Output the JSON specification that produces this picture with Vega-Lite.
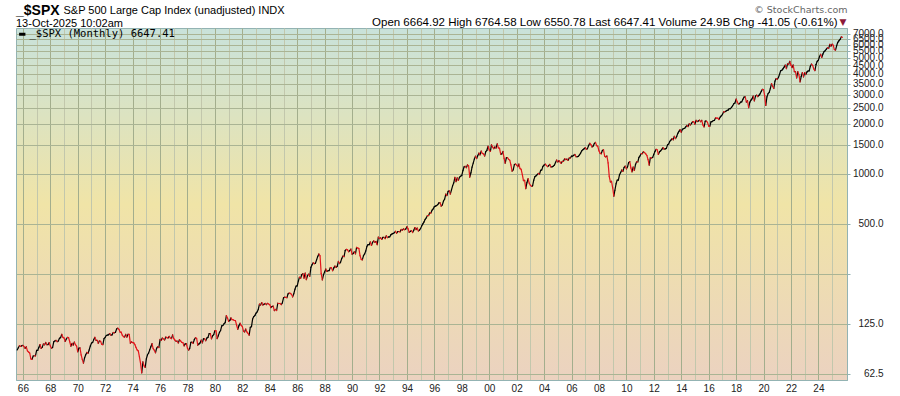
{
  "$schema": "https://vega.github.io/schema/vega-lite/v6.json",
  "autosize": {"type": "none"},
  "width": 831,
  "height": 352,
  "padding": {"left": 16, "top": 28, "right": 53, "bottom": 16},
  "background": "#ffffff",
  "config": {
    "font": "Liberation Sans",
    "view": {
      "stroke": "#93b3b3",
      "strokeWidth": 1,
      "fill": {
        "gradient": "linear", "x1": 0, "y1": 0, "x2": 0, "y2": 1,
        "stops": [
          {"offset": 0, "color": "#c9e2da"},
          {"offset": 0.5, "color": "#f0e4a7"},
          {"offset": 1, "color": "#ebd2c0"}
        ]
      }
    }
  },
  "title": {
    "text": "_$SPX",
    "subtitle": "13-Oct-2025 10:02am",
    "anchor": "start",
    "frame": "group",
    "font": "Liberation Sans",
    "fontSize": 14,
    "fontWeight": "bold",
    "color": "#000000",
    "subtitleFont": "Liberation Sans",
    "subtitleFontSize": 11,
    "subtitleColor": "#000000",
    "subtitlePadding": 0,
    "offset": -25
  },
  "data": {
    "format": {"parse": {"d": "date"}},
    "values": [
{"d":"1965-08","c":87.17},{"d":"1965-09","c":89.96},{"d":"1965-10","c":92.42},{"d":"1965-11","c":91.61},{"d":"1965-12","c":92.43},
{"d":"1966-01","c":92.88},{"d":"1966-02","c":91.22},{"d":"1966-03","c":89.23},{"d":"1966-04","c":91.06},{"d":"1966-05","c":86.13},{"d":"1966-06","c":84.74},{"d":"1966-07","c":83.60},{"d":"1966-08","c":77.10},{"d":"1966-09","c":76.56},{"d":"1966-10","c":80.20},{"d":"1966-11","c":80.45},{"d":"1966-12","c":80.33},
{"d":"1967-01","c":86.61},{"d":"1967-02","c":86.78},{"d":"1967-03","c":90.20},{"d":"1967-04","c":94.01},{"d":"1967-05","c":89.08},{"d":"1967-06","c":90.64},{"d":"1967-07","c":94.75},{"d":"1967-08","c":93.64},{"d":"1967-09","c":96.71},{"d":"1967-10","c":93.90},{"d":"1967-11","c":94.00},{"d":"1967-12","c":96.47},
{"d":"1968-01","c":92.24},{"d":"1968-02","c":89.36},{"d":"1968-03","c":90.20},{"d":"1968-04","c":97.59},{"d":"1968-05","c":98.68},{"d":"1968-06","c":99.58},{"d":"1968-07","c":97.74},{"d":"1968-08","c":98.86},{"d":"1968-09","c":102.67},{"d":"1968-10","c":103.41},{"d":"1968-11","c":108.37},{"d":"1968-12","c":103.86},
{"d":"1969-01","c":103.01},{"d":"1969-02","c":98.13},{"d":"1969-03","c":101.51},{"d":"1969-04","c":103.69},{"d":"1969-05","c":103.46},{"d":"1969-06","c":97.71},{"d":"1969-07","c":91.83},{"d":"1969-08","c":95.51},{"d":"1969-09","c":93.12},{"d":"1969-10","c":97.24},{"d":"1969-11","c":93.81},{"d":"1969-12","c":92.06},
{"d":"1970-01","c":85.02},{"d":"1970-02","c":89.50},{"d":"1970-03","c":89.63},{"d":"1970-04","c":81.52},{"d":"1970-05","c":76.55},{"d":"1970-06","c":72.72},{"d":"1970-07","c":78.05},{"d":"1970-08","c":81.52},{"d":"1970-09","c":84.21},{"d":"1970-10","c":83.25},{"d":"1970-11","c":87.20},{"d":"1970-12","c":92.15},
{"d":"1971-01","c":95.88},{"d":"1971-02","c":96.75},{"d":"1971-03","c":100.31},{"d":"1971-04","c":103.95},{"d":"1971-05","c":99.63},{"d":"1971-06","c":99.70},{"d":"1971-07","c":95.58},{"d":"1971-08","c":99.03},{"d":"1971-09","c":98.34},{"d":"1971-10","c":94.23},{"d":"1971-11","c":93.99},{"d":"1971-12","c":102.09},
{"d":"1972-01","c":103.94},{"d":"1972-02","c":106.57},{"d":"1972-03","c":107.20},{"d":"1972-04","c":107.67},{"d":"1972-05","c":109.53},{"d":"1972-06","c":107.14},{"d":"1972-07","c":107.39},{"d":"1972-08","c":111.09},{"d":"1972-09","c":110.55},{"d":"1972-10","c":111.58},{"d":"1972-11","c":116.67},{"d":"1972-12","c":118.05},
{"d":"1973-01","c":116.03},{"d":"1973-02","c":111.68},{"d":"1973-03","c":111.52},{"d":"1973-04","c":106.97},{"d":"1973-05","c":104.95},{"d":"1973-06","c":104.26},{"d":"1973-07","c":108.22},{"d":"1973-08","c":104.25},{"d":"1973-09","c":108.43},{"d":"1973-10","c":108.29},{"d":"1973-11","c":95.96},{"d":"1973-12","c":97.55},
{"d":"1974-01","c":96.57},{"d":"1974-02","c":96.22},{"d":"1974-03","c":93.98},{"d":"1974-04","c":90.31},{"d":"1974-05","c":87.28},{"d":"1974-06","c":86.00},{"d":"1974-07","c":79.31},{"d":"1974-08","c":72.15},{"d":"1974-09","c":63.54},{"d":"1974-10","c":73.90},{"d":"1974-11","c":69.97},{"d":"1974-12","c":68.56},
{"d":"1975-01","c":76.98},{"d":"1975-02","c":81.59},{"d":"1975-03","c":83.36},{"d":"1975-04","c":87.30},{"d":"1975-05","c":91.15},{"d":"1975-06","c":95.19},{"d":"1975-07","c":88.75},{"d":"1975-08","c":86.88},{"d":"1975-09","c":83.87},{"d":"1975-10","c":89.04},{"d":"1975-11","c":91.24},{"d":"1975-12","c":90.19},
{"d":"1976-01","c":100.86},{"d":"1976-02","c":99.71},{"d":"1976-03","c":102.77},{"d":"1976-04","c":101.64},{"d":"1976-05","c":100.18},{"d":"1976-06","c":104.28},{"d":"1976-07","c":103.44},{"d":"1976-08","c":102.91},{"d":"1976-09","c":105.24},{"d":"1976-10","c":102.90},{"d":"1976-11","c":102.10},{"d":"1976-12","c":107.46},
{"d":"1977-01","c":102.03},{"d":"1977-02","c":99.82},{"d":"1977-03","c":98.42},{"d":"1977-04","c":98.44},{"d":"1977-05","c":96.12},{"d":"1977-06","c":100.48},{"d":"1977-07","c":98.85},{"d":"1977-08","c":96.77},{"d":"1977-09","c":96.53},{"d":"1977-10","c":92.34},{"d":"1977-11","c":94.83},{"d":"1977-12","c":95.10},
{"d":"1978-01","c":89.25},{"d":"1978-02","c":87.04},{"d":"1978-03","c":89.21},{"d":"1978-04","c":96.83},{"d":"1978-05","c":97.24},{"d":"1978-06","c":95.53},{"d":"1978-07","c":100.68},{"d":"1978-08","c":103.29},{"d":"1978-09","c":102.54},{"d":"1978-10","c":93.15},{"d":"1978-11","c":94.70},{"d":"1978-12","c":96.11},
{"d":"1979-01","c":99.93},{"d":"1979-02","c":96.28},{"d":"1979-03","c":101.59},{"d":"1979-04","c":101.76},{"d":"1979-05","c":99.08},{"d":"1979-06","c":102.91},{"d":"1979-07","c":103.81},{"d":"1979-08","c":109.32},{"d":"1979-09","c":109.32},{"d":"1979-10","c":101.82},{"d":"1979-11","c":106.16},{"d":"1979-12","c":107.94},
{"d":"1980-01","c":114.16},{"d":"1980-02","c":113.66},{"d":"1980-03","c":102.09},{"d":"1980-04","c":106.29},{"d":"1980-05","c":111.24},{"d":"1980-06","c":114.24},{"d":"1980-07","c":121.67},{"d":"1980-08","c":122.38},{"d":"1980-09","c":125.46},{"d":"1980-10","c":127.47},{"d":"1980-11","c":140.52},{"d":"1980-12","c":135.76},
{"d":"1981-01","c":129.55},{"d":"1981-02","c":131.27},{"d":"1981-03","c":136.00},{"d":"1981-04","c":132.81},{"d":"1981-05","c":132.59},{"d":"1981-06","c":131.21},{"d":"1981-07","c":130.92},{"d":"1981-08","c":122.79},{"d":"1981-09","c":116.18},{"d":"1981-10","c":121.89},{"d":"1981-11","c":126.35},{"d":"1981-12","c":122.55},
{"d":"1982-01","c":120.40},{"d":"1982-02","c":113.11},{"d":"1982-03","c":111.96},{"d":"1982-04","c":116.44},{"d":"1982-05","c":111.88},{"d":"1982-06","c":109.61},{"d":"1982-07","c":107.09},{"d":"1982-08","c":119.51},{"d":"1982-09","c":120.42},{"d":"1982-10","c":133.71},{"d":"1982-11","c":138.54},{"d":"1982-12","c":140.64},
{"d":"1983-01","c":145.30},{"d":"1983-02","c":148.06},{"d":"1983-03","c":152.96},{"d":"1983-04","c":164.42},{"d":"1983-05","c":162.39},{"d":"1983-06","c":168.11},{"d":"1983-07","c":162.56},{"d":"1983-08","c":164.40},{"d":"1983-09","c":166.07},{"d":"1983-10","c":163.55},{"d":"1983-11","c":166.40},{"d":"1983-12","c":164.93},
{"d":"1984-01","c":163.41},{"d":"1984-02","c":157.06},{"d":"1984-03","c":159.18},{"d":"1984-04","c":160.05},{"d":"1984-05","c":150.55},{"d":"1984-06","c":153.18},{"d":"1984-07","c":150.66},{"d":"1984-08","c":166.68},{"d":"1984-09","c":166.10},{"d":"1984-10","c":166.09},{"d":"1984-11","c":163.58},{"d":"1984-12","c":167.24},
{"d":"1985-01","c":179.63},{"d":"1985-02","c":181.18},{"d":"1985-03","c":180.66},{"d":"1985-04","c":179.83},{"d":"1985-05","c":189.55},{"d":"1985-06","c":191.85},{"d":"1985-07","c":190.92},{"d":"1985-08","c":188.63},{"d":"1985-09","c":182.08},{"d":"1985-10","c":189.82},{"d":"1985-11","c":202.17},{"d":"1985-12","c":211.28},
{"d":"1986-01","c":211.78},{"d":"1986-02","c":226.92},{"d":"1986-03","c":238.90},{"d":"1986-04","c":235.52},{"d":"1986-05","c":247.35},{"d":"1986-06","c":250.84},{"d":"1986-07","c":236.12},{"d":"1986-08","c":252.93},{"d":"1986-09","c":231.32},{"d":"1986-10","c":243.98},{"d":"1986-11","c":249.22},{"d":"1986-12","c":242.17},
{"d":"1987-01","c":274.08},{"d":"1987-02","c":284.20},{"d":"1987-03","c":291.70},{"d":"1987-04","c":288.36},{"d":"1987-05","c":290.10},{"d":"1987-06","c":304.00},{"d":"1987-07","c":318.66},{"d":"1987-08","c":329.80},{"d":"1987-09","c":321.83},{"d":"1987-10","c":251.79},{"d":"1987-11","c":230.30},{"d":"1987-12","c":247.08},
{"d":"1988-01","c":257.07},{"d":"1988-02","c":267.82},{"d":"1988-03","c":258.89},{"d":"1988-04","c":261.33},{"d":"1988-05","c":262.16},{"d":"1988-06","c":273.50},{"d":"1988-07","c":272.02},{"d":"1988-08","c":261.52},{"d":"1988-09","c":271.91},{"d":"1988-10","c":278.97},{"d":"1988-11","c":273.70},{"d":"1988-12","c":277.72},
{"d":"1989-01","c":297.47},{"d":"1989-02","c":288.86},{"d":"1989-03","c":294.87},{"d":"1989-04","c":309.64},{"d":"1989-05","c":320.52},{"d":"1989-06","c":317.98},{"d":"1989-07","c":346.08},{"d":"1989-08","c":351.45},{"d":"1989-09","c":349.15},{"d":"1989-10","c":340.36},{"d":"1989-11","c":345.99},{"d":"1989-12","c":353.40},
{"d":"1990-01","c":329.08},{"d":"1990-02","c":331.89},{"d":"1990-03","c":339.94},{"d":"1990-04","c":330.80},{"d":"1990-05","c":361.23},{"d":"1990-06","c":358.02},{"d":"1990-07","c":356.15},{"d":"1990-08","c":322.56},{"d":"1990-09","c":306.05},{"d":"1990-10","c":304.00},{"d":"1990-11","c":322.22},{"d":"1990-12","c":330.22},
{"d":"1991-01","c":343.93},{"d":"1991-02","c":367.07},{"d":"1991-03","c":375.22},{"d":"1991-04","c":375.35},{"d":"1991-05","c":389.83},{"d":"1991-06","c":371.16},{"d":"1991-07","c":387.81},{"d":"1991-08","c":395.43},{"d":"1991-09","c":387.86},{"d":"1991-10","c":392.46},{"d":"1991-11","c":375.22},{"d":"1991-12","c":417.09},
{"d":"1992-01","c":408.79},{"d":"1992-02","c":412.70},{"d":"1992-03","c":403.69},{"d":"1992-04","c":414.95},{"d":"1992-05","c":415.35},{"d":"1992-06","c":408.14},{"d":"1992-07","c":424.21},{"d":"1992-08","c":414.03},{"d":"1992-09","c":417.80},{"d":"1992-10","c":418.68},{"d":"1992-11","c":431.35},{"d":"1992-12","c":435.71},
{"d":"1993-01","c":438.78},{"d":"1993-02","c":443.38},{"d":"1993-03","c":451.67},{"d":"1993-04","c":440.19},{"d":"1993-05","c":450.19},{"d":"1993-06","c":450.53},{"d":"1993-07","c":448.13},{"d":"1993-08","c":463.56},{"d":"1993-09","c":458.93},{"d":"1993-10","c":467.83},{"d":"1993-11","c":461.79},{"d":"1993-12","c":466.45},
{"d":"1994-01","c":481.61},{"d":"1994-02","c":467.14},{"d":"1994-03","c":445.77},{"d":"1994-04","c":450.91},{"d":"1994-05","c":456.50},{"d":"1994-06","c":444.27},{"d":"1994-07","c":458.26},{"d":"1994-08","c":475.49},{"d":"1994-09","c":462.69},{"d":"1994-10","c":472.35},{"d":"1994-11","c":453.69},{"d":"1994-12","c":459.27},
{"d":"1995-01","c":470.42},{"d":"1995-02","c":487.39},{"d":"1995-03","c":500.71},{"d":"1995-04","c":514.71},{"d":"1995-05","c":533.40},{"d":"1995-06","c":544.75},{"d":"1995-07","c":562.06},{"d":"1995-08","c":561.88},{"d":"1995-09","c":584.41},{"d":"1995-10","c":581.50},{"d":"1995-11","c":605.37},{"d":"1995-12","c":615.93},
{"d":"1996-01","c":636.02},{"d":"1996-02","c":640.43},{"d":"1996-03","c":645.50},{"d":"1996-04","c":654.17},{"d":"1996-05","c":669.12},{"d":"1996-06","c":670.63},{"d":"1996-07","c":639.95},{"d":"1996-08","c":651.99},{"d":"1996-09","c":687.31},{"d":"1996-10","c":705.27},{"d":"1996-11","c":757.02},{"d":"1996-12","c":740.74},
{"d":"1997-01","c":786.16},{"d":"1997-02","c":790.82},{"d":"1997-03","c":757.12},{"d":"1997-04","c":801.34},{"d":"1997-05","c":848.28},{"d":"1997-06","c":885.14},{"d":"1997-07","c":954.29},{"d":"1997-08","c":899.47},{"d":"1997-09","c":947.28},{"d":"1997-10","c":914.62},{"d":"1997-11","c":955.40},{"d":"1997-12","c":970.43},
{"d":"1998-01","c":980.28},{"d":"1998-02","c":1049.34},{"d":"1998-03","c":1101.75},{"d":"1998-04","c":1111.75},{"d":"1998-05","c":1090.82},{"d":"1998-06","c":1133.84},{"d":"1998-07","c":1120.67},{"d":"1998-08","c":957.28},{"d":"1998-09","c":1017.01},{"d":"1998-10","c":1098.67},{"d":"1998-11","c":1163.63},{"d":"1998-12","c":1229.23},
{"d":"1999-01","c":1279.64},{"d":"1999-02","c":1238.33},{"d":"1999-03","c":1286.37},{"d":"1999-04","c":1335.18},{"d":"1999-05","c":1301.84},{"d":"1999-06","c":1372.71},{"d":"1999-07","c":1328.72},{"d":"1999-08","c":1320.41},{"d":"1999-09","c":1282.71},{"d":"1999-10","c":1362.93},{"d":"1999-11","c":1388.91},{"d":"1999-12","c":1469.25},
{"d":"2000-01","c":1394.46},{"d":"2000-02","c":1366.42},{"d":"2000-03","c":1498.58},{"d":"2000-04","c":1452.43},{"d":"2000-05","c":1420.60},{"d":"2000-06","c":1454.60},{"d":"2000-07","c":1430.83},{"d":"2000-08","c":1517.68},{"d":"2000-09","c":1436.51},{"d":"2000-10","c":1429.40},{"d":"2000-11","c":1314.95},{"d":"2000-12","c":1320.28},
{"d":"2001-01","c":1366.01},{"d":"2001-02","c":1239.94},{"d":"2001-03","c":1160.33},{"d":"2001-04","c":1249.46},{"d":"2001-05","c":1255.82},{"d":"2001-06","c":1224.42},{"d":"2001-07","c":1211.23},{"d":"2001-08","c":1133.58},{"d":"2001-09","c":1040.94},{"d":"2001-10","c":1059.78},{"d":"2001-11","c":1139.45},{"d":"2001-12","c":1148.08},
{"d":"2002-01","c":1130.20},{"d":"2002-02","c":1106.73},{"d":"2002-03","c":1147.39},{"d":"2002-04","c":1076.92},{"d":"2002-05","c":1067.14},{"d":"2002-06","c":989.82},{"d":"2002-07","c":911.62},{"d":"2002-08","c":916.07},{"d":"2002-09","c":815.28},{"d":"2002-10","c":885.76},{"d":"2002-11","c":936.31},{"d":"2002-12","c":879.82},
{"d":"2003-01","c":855.70},{"d":"2003-02","c":841.15},{"d":"2003-03","c":848.18},{"d":"2003-04","c":916.92},{"d":"2003-05","c":963.59},{"d":"2003-06","c":974.50},{"d":"2003-07","c":990.31},{"d":"2003-08","c":1008.01},{"d":"2003-09","c":995.97},{"d":"2003-10","c":1050.71},{"d":"2003-11","c":1058.20},{"d":"2003-12","c":1111.92},
{"d":"2004-01","c":1131.13},{"d":"2004-02","c":1144.94},{"d":"2004-03","c":1126.21},{"d":"2004-04","c":1107.30},{"d":"2004-05","c":1120.68},{"d":"2004-06","c":1140.84},{"d":"2004-07","c":1101.72},{"d":"2004-08","c":1104.24},{"d":"2004-09","c":1114.58},{"d":"2004-10","c":1130.20},{"d":"2004-11","c":1173.82},{"d":"2004-12","c":1211.92},
{"d":"2005-01","c":1181.27},{"d":"2005-02","c":1203.60},{"d":"2005-03","c":1180.59},{"d":"2005-04","c":1156.85},{"d":"2005-05","c":1191.50},{"d":"2005-06","c":1191.33},{"d":"2005-07","c":1234.18},{"d":"2005-08","c":1220.33},{"d":"2005-09","c":1228.81},{"d":"2005-10","c":1207.01},{"d":"2005-11","c":1249.48},{"d":"2005-12","c":1248.29},
{"d":"2006-01","c":1280.08},{"d":"2006-02","c":1280.66},{"d":"2006-03","c":1294.83},{"d":"2006-04","c":1310.61},{"d":"2006-05","c":1270.09},{"d":"2006-06","c":1270.20},{"d":"2006-07","c":1276.66},{"d":"2006-08","c":1303.82},{"d":"2006-09","c":1335.85},{"d":"2006-10","c":1377.94},{"d":"2006-11","c":1400.63},{"d":"2006-12","c":1418.30},
{"d":"2007-01","c":1438.24},{"d":"2007-02","c":1406.82},{"d":"2007-03","c":1420.86},{"d":"2007-04","c":1482.37},{"d":"2007-05","c":1530.62},{"d":"2007-06","c":1503.35},{"d":"2007-07","c":1455.27},{"d":"2007-08","c":1473.99},{"d":"2007-09","c":1526.75},{"d":"2007-10","c":1549.38},{"d":"2007-11","c":1481.14},{"d":"2007-12","c":1468.36},
{"d":"2008-01","c":1378.55},{"d":"2008-02","c":1330.63},{"d":"2008-03","c":1322.70},{"d":"2008-04","c":1385.59},{"d":"2008-05","c":1400.38},{"d":"2008-06","c":1280.00},{"d":"2008-07","c":1267.38},{"d":"2008-08","c":1282.83},{"d":"2008-09","c":1166.36},{"d":"2008-10","c":968.75},{"d":"2008-11","c":896.24},{"d":"2008-12","c":903.25},
{"d":"2009-01","c":825.88},{"d":"2009-02","c":735.09},{"d":"2009-03","c":797.87},{"d":"2009-04","c":872.81},{"d":"2009-05","c":919.14},{"d":"2009-06","c":919.32},{"d":"2009-07","c":987.48},{"d":"2009-08","c":1020.62},{"d":"2009-09","c":1057.08},{"d":"2009-10","c":1036.19},{"d":"2009-11","c":1095.63},{"d":"2009-12","c":1115.10},
{"d":"2010-01","c":1073.87},{"d":"2010-02","c":1104.49},{"d":"2010-03","c":1169.43},{"d":"2010-04","c":1186.69},{"d":"2010-05","c":1089.41},{"d":"2010-06","c":1030.71},{"d":"2010-07","c":1101.60},{"d":"2010-08","c":1049.33},{"d":"2010-09","c":1141.20},{"d":"2010-10","c":1183.26},{"d":"2010-11","c":1180.55},{"d":"2010-12","c":1257.64},
{"d":"2011-01","c":1286.12},{"d":"2011-02","c":1327.22},{"d":"2011-03","c":1325.83},{"d":"2011-04","c":1363.61},{"d":"2011-05","c":1345.20},{"d":"2011-06","c":1320.64},{"d":"2011-07","c":1292.28},{"d":"2011-08","c":1218.89},{"d":"2011-09","c":1131.42},{"d":"2011-10","c":1253.30},{"d":"2011-11","c":1246.96},{"d":"2011-12","c":1257.60},
{"d":"2012-01","c":1312.41},{"d":"2012-02","c":1365.68},{"d":"2012-03","c":1408.47},{"d":"2012-04","c":1397.91},{"d":"2012-05","c":1310.33},{"d":"2012-06","c":1362.16},{"d":"2012-07","c":1379.32},{"d":"2012-08","c":1406.58},{"d":"2012-09","c":1440.67},{"d":"2012-10","c":1412.16},{"d":"2012-11","c":1416.18},{"d":"2012-12","c":1426.19},
{"d":"2013-01","c":1498.11},{"d":"2013-02","c":1514.68},{"d":"2013-03","c":1569.19},{"d":"2013-04","c":1597.57},{"d":"2013-05","c":1630.74},{"d":"2013-06","c":1606.28},{"d":"2013-07","c":1685.73},{"d":"2013-08","c":1632.97},{"d":"2013-09","c":1681.55},{"d":"2013-10","c":1756.54},{"d":"2013-11","c":1805.81},{"d":"2013-12","c":1848.36},
{"d":"2014-01","c":1782.59},{"d":"2014-02","c":1859.45},{"d":"2014-03","c":1872.34},{"d":"2014-04","c":1883.95},{"d":"2014-05","c":1923.57},{"d":"2014-06","c":1960.23},{"d":"2014-07","c":1930.67},{"d":"2014-08","c":2003.37},{"d":"2014-09","c":1972.29},{"d":"2014-10","c":2018.05},{"d":"2014-11","c":2067.56},{"d":"2014-12","c":2058.90},
{"d":"2015-01","c":1994.99},{"d":"2015-02","c":2104.50},{"d":"2015-03","c":2067.89},{"d":"2015-04","c":2085.51},{"d":"2015-05","c":2107.39},{"d":"2015-06","c":2063.11},{"d":"2015-07","c":2103.84},{"d":"2015-08","c":1972.18},{"d":"2015-09","c":1920.03},{"d":"2015-10","c":2079.36},{"d":"2015-11","c":2080.41},{"d":"2015-12","c":2043.94},
{"d":"2016-01","c":1940.24},{"d":"2016-02","c":1932.23},{"d":"2016-03","c":2059.74},{"d":"2016-04","c":2065.30},{"d":"2016-05","c":2096.95},{"d":"2016-06","c":2098.86},{"d":"2016-07","c":2173.60},{"d":"2016-08","c":2170.95},{"d":"2016-09","c":2168.27},{"d":"2016-10","c":2126.15},{"d":"2016-11","c":2198.81},{"d":"2016-12","c":2238.83},
{"d":"2017-01","c":2278.87},{"d":"2017-02","c":2363.64},{"d":"2017-03","c":2362.72},{"d":"2017-04","c":2384.20},{"d":"2017-05","c":2411.80},{"d":"2017-06","c":2423.41},{"d":"2017-07","c":2470.30},{"d":"2017-08","c":2471.65},{"d":"2017-09","c":2519.36},{"d":"2017-10","c":2575.26},{"d":"2017-11","c":2647.58},{"d":"2017-12","c":2673.61},
{"d":"2018-01","c":2823.81},{"d":"2018-02","c":2713.83},{"d":"2018-03","c":2640.87},{"d":"2018-04","c":2648.05},{"d":"2018-05","c":2705.27},{"d":"2018-06","c":2718.37},{"d":"2018-07","c":2816.29},{"d":"2018-08","c":2901.52},{"d":"2018-09","c":2913.98},{"d":"2018-10","c":2711.74},{"d":"2018-11","c":2760.17},{"d":"2018-12","c":2506.85},
{"d":"2019-01","c":2704.10},{"d":"2019-02","c":2784.49},{"d":"2019-03","c":2834.40},{"d":"2019-04","c":2945.83},{"d":"2019-05","c":2752.06},{"d":"2019-06","c":2941.76},{"d":"2019-07","c":2980.38},{"d":"2019-08","c":2926.46},{"d":"2019-09","c":2976.74},{"d":"2019-10","c":3037.56},{"d":"2019-11","c":3140.98},{"d":"2019-12","c":3230.78},
{"d":"2020-01","c":3225.52},{"d":"2020-02","c":2954.22},{"d":"2020-03","c":2584.59},{"d":"2020-04","c":2912.43},{"d":"2020-05","c":3044.31},{"d":"2020-06","c":3100.29},{"d":"2020-07","c":3271.12},{"d":"2020-08","c":3500.31},{"d":"2020-09","c":3363.00},{"d":"2020-10","c":3269.96},{"d":"2020-11","c":3621.63},{"d":"2020-12","c":3756.07},
{"d":"2021-01","c":3714.24},{"d":"2021-02","c":3811.15},{"d":"2021-03","c":3972.89},{"d":"2021-04","c":4181.17},{"d":"2021-05","c":4204.11},{"d":"2021-06","c":4297.50},{"d":"2021-07","c":4395.26},{"d":"2021-08","c":4522.68},{"d":"2021-09","c":4307.54},{"d":"2021-10","c":4605.38},{"d":"2021-11","c":4567.00},{"d":"2021-12","c":4766.18},
{"d":"2022-01","c":4515.55},{"d":"2022-02","c":4373.94},{"d":"2022-03","c":4530.41},{"d":"2022-04","c":4131.93},{"d":"2022-05","c":4132.15},{"d":"2022-06","c":3785.38},{"d":"2022-07","c":4130.29},{"d":"2022-08","c":3955.00},{"d":"2022-09","c":3585.62},{"d":"2022-10","c":3871.98},{"d":"2022-11","c":4080.11},{"d":"2022-12","c":3839.50},
{"d":"2023-01","c":4076.60},{"d":"2023-02","c":3970.15},{"d":"2023-03","c":4109.31},{"d":"2023-04","c":4169.48},{"d":"2023-05","c":4179.83},{"d":"2023-06","c":4450.38},{"d":"2023-07","c":4588.96},{"d":"2023-08","c":4507.66},{"d":"2023-09","c":4288.05},{"d":"2023-10","c":4193.80},{"d":"2023-11","c":4567.80},{"d":"2023-12","c":4769.83},
{"d":"2024-01","c":4845.65},{"d":"2024-02","c":5096.27},{"d":"2024-03","c":5254.35},{"d":"2024-04","c":5035.69},{"d":"2024-05","c":5277.51},{"d":"2024-06","c":5460.48},{"d":"2024-07","c":5522.30},{"d":"2024-08","c":5648.40},{"d":"2024-09","c":5762.48},{"d":"2024-10","c":5705.45},{"d":"2024-11","c":6032.38},{"d":"2024-12","c":5881.63},
{"d":"2025-01","c":6040.53},{"d":"2025-02","c":5954.50},{"d":"2025-03","c":5611.85},{"d":"2025-04","c":5569.06},{"d":"2025-05","c":5911.69},{"d":"2025-06","c":6204.95},{"d":"2025-07","c":6339.39},{"d":"2025-08","c":6460.26},{"d":"2025-09","c":6688.46},{"d":"2025-10","c":6647.41}
    ]
  },
  "transform": [
    {"window": [{"op": "lag", "field": "c", "as": "pc"}, {"op": "lag", "field": "d", "as": "pd"}], "sort": [{"field": "d"}]},
    {"filter": "datum.pc != null"}
  ],
  "resolve": {"axis": {"x": "independent", "y": "independent"}},
  "layer": [
    {
      "transform": [{"filter": "datum.c >= datum.pc"}],
      "mark": {"type": "rule", "strokeWidth": 1.2, "strokeCap": "round"},
      "encoding": {
        "x": {
          "field": "pd", "type": "temporal",
          "scale": {"type": "utc", "domain": [{"year": 1965, "month": 7, "date": 1, "utc": true}, {"year": 2026, "month": 2, "date": 1, "utc": true}]},
          "axis": {
            "orient": "bottom",
            "tickCount": {"interval": "year", "step": 1},
            "labelExpr": "(utcyear(datum.value) % 2 === 0 && utcyear(datum.value) < 2026) ? utcFormat(datum.value, '%y') : ''",
            "labelOverlap": false,
            "labelFlush": false,
            "labelFont": "Liberation Sans",
            "labelFontSize": 10,
            "labelColor": "#222222",
            "labelPadding": 3,
            "ticks": false,
            "grid": true,
            "gridColor": {"condition": {"test": "utcyear(datum.value) % 2 === 0", "value": "#a3ae8d"}, "value": "#c2c7ac"},
            "gridOpacity": {"condition": {"test": "utcyear(datum.value) >= 2026", "value": 0}, "value": 1},
            "domainColor": "#93b3b3",
            "title": "\u00a9 StockCharts.com",
            "titleFont": "DejaVu Sans",
            "titleFontSize": 9.5,
            "titleFontWeight": "normal",
            "titleColor": "#666666",
            "titleAngle": 0,
            "titleAlign": "right",
            "titleBaseline": "alphabetic",
            "titleX": 831,
            "titleY": -368
          }
        },
        "x2": {"field": "d"},
        "y": {
          "field": "pc", "type": "quantitative",
          "scale": {"type": "log", "domain": [57.5, 7565], "nice": false},
          "axis": {
            "orient": "right",
            "values": [62.5, 125, 250, 500, 1000, 1500, 2000, 2500, 3000, 3500, 4000, 4500, 5000, 5500, 6000, 6500, 7000],
            "labelExpr": "datum.value == 250 ? '' : format(datum.value, '.1f')",
            "labelOverlap": false,
            "labelAlign": "right",
            "labelPadding": 33,
            "labelFont": "Liberation Sans",
            "labelFontSize": 10,
            "labelColor": "#222222",
            "tickSize": 3,
            "tickColor": "#93b3b3",
            "domainColor": "#93b3b3",
            "grid": true,
            "gridColor": "#aab494",
            "gridOpacity": 1,
            "title": "Open 6664.92  High 6764.58  Low 6550.78  Last 6647.41  Volume 24.9B  Chg -41.05 (-0.61%)",
            "titleFont": "Liberation Sans",
            "titleFontSize": 11.5,
            "titleFontWeight": "normal",
            "titleColor": "#000000",
            "titleAngle": 0,
            "titleAlign": "right",
            "titleBaseline": "alphabetic",
            "titleX": -10,
            "titleY": -3
          }
        },
        "y2": {"field": "c"},
        "color": {
          "datum": "_$SPX (Monthly) 6647.41",
          "type": "nominal",
          "scale": {"range": ["#000000"]},
          "legend": {
            "orient": "top-left",
            "offset": 1,
            "padding": 0,
            "title": null,
            "symbolType": "stroke",
            "symbolStrokeWidth": 3,
            "symbolSize": 40,
            "labelFont": "DejaVu Sans Mono",
            "labelFontSize": 10.5,
            "labelColor": "#000000",
            "labelOffset": 2
          }
        }
      }
    },
    {
      "transform": [{"filter": "datum.c < datum.pc"}],
      "mark": {"type": "rule", "strokeWidth": 1.2, "strokeCap": "round", "color": "#e3151b"},
      "encoding": {
        "x": {
          "field": "pd", "type": "temporal",
          "scale": {"type": "utc", "domain": [{"year": 1965, "month": 7, "date": 1, "utc": true}, {"year": 2026, "month": 2, "date": 1, "utc": true}]},
          "axis": {
            "orient": "top",
            "labels": false,
            "ticks": false,
            "domain": false,
            "grid": false,
            "title": "S&P 500 Large Cap Index (unadjusted) INDX",
            "titleFont": "Liberation Sans",
            "titleFontSize": 11,
            "titleFontWeight": "normal",
            "titleColor": "#000000",
            "titleAngle": 0,
            "titleAlign": "left",
            "titleAnchor": null,
            "titleBaseline": "alphabetic",
            "titleX": 47,
            "titleY": -15
          }
        },
        "x2": {"field": "d"},
        "y": {
          "field": "pc", "type": "quantitative",
          "scale": {"type": "log", "domain": [57.5, 7565], "nice": false},
          "axis": {
            "orient": "left",
            "labels": false,
            "ticks": false,
            "domain": false,
            "grid": false,
            "title": "\u25bc",
            "titleFont": "DejaVu Sans",
            "titleFontSize": 9,
            "titleFontWeight": "normal",
            "titleColor": "#8b1a3a",
            "titleAngle": 0,
            "titleAlign": "left",
            "titleBaseline": "alphabetic",
            "titleX": 823,
            "titleY": -4
          }
        },
        "y2": {"field": "c"}
      }
    }
  ]
}
